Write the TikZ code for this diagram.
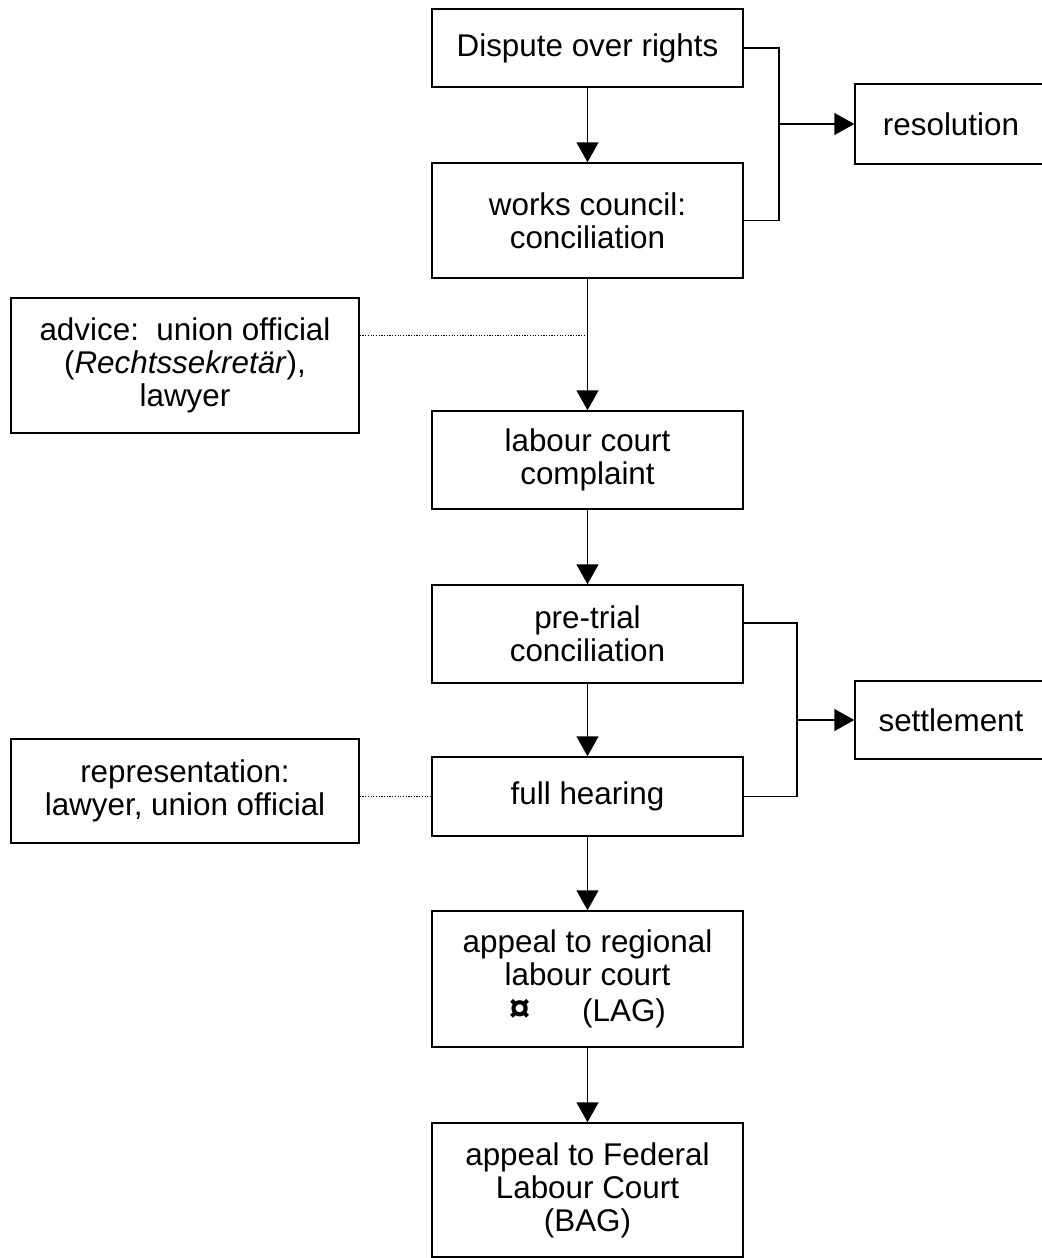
\documentclass[tikz,border=0pt]{standalone}
\usepackage{fontspec}
\setmainfont{Liberation Sans}
\usetikzlibrary{arrows.meta,calc}
\begin{document}
\begin{tikzpicture}[x=0.5pt,y=-0.5pt, every node/.style={draw,line width=0.75pt,align=center,inner sep=0pt,font=\fontsize{15.7}{16.5}\selectfont},
    stage/.style={minimum width=155.5pt},
    side/.style={minimum width=174pt},
    outcome/.style={minimum width=96pt},
    arr/.style={line width=0.75pt,-{Triangle[width=11pt,length=10pt]}},
    link/.style={line width=0.75pt},
    dotline/.style={line width=0.5pt,dash pattern=on 0.6pt off 0.75pt}]
            \useasboundingbox (0,0) rectangle (1042,1258);
            \node[stage,minimum height=39pt] (dispute) at (587.5,48) {Dispute over rights};
            \node[stage,minimum height=57.5pt] (works) at (587.5,220.5) {works council:\\conciliation};
            \node[side,minimum height=67.5pt] (advice) at (185,365.5) {advice:\ \ union official\\(\textit{Rechtssekretär}),\\lawyer};
            \node[stage,minimum height=49pt] (complaint) at (587.5,460) {labour court\\complaint};
            \node[stage,minimum height=49pt] (pretrial) at (587.5,634) {pre-trial\\conciliation};
            \node[stage,minimum height=39.5pt] (hearing) at (587.5,796.5) {full hearing};
            \node[side,minimum height=52pt] (repr) at (185,791) {representation:\\lawyer, union official};
            \node[stage,minimum height=68pt] (lag) at (587.5,979) {appeal to regional\\labour court\\[1.5pt]{\fontsize{19}{16.5}\selectfont\bfseries ¤}\hspace{26pt}(LAG)};
            \node[stage,minimum height=67pt] (bag) at (587.5,1190) {appeal to Federal\\Labour Court\\(BAG)};
            \node[outcome,minimum height=40pt] (resolution) at (951,124) {resolution};
            \node[outcome,minimum height=39pt] (settlement) at (951,720) {settlement};
            \coordinate (rj) at (779,124);
            \coordinate (sj) at (797,720);
            \coordinate (advj) at (587.5,335);
            \draw[arr] (dispute) -- (works);
            \draw[arr] (works) -- (complaint);
            \draw[arr] (complaint) -- (pretrial);
            \draw[arr] (pretrial) -- (hearing);
            \draw[arr] (hearing) -- (lag);
            \draw[arr] (lag) -- (bag);
            \draw[link] (dispute.east) -| (rj) |- (works.east);
            \draw[arr] (rj) -- (resolution);
            \draw[link] ($(pretrial.east)+(0,-11)$) -| (sj) |- (hearing.east);
            \draw[arr] (sj) -- (settlement);
            \draw[dotline] (advice.east |- advj) -- (advj);
            \draw[dotline] (repr.east |- hearing.west) -- (hearing.west);
        \end{tikzpicture}
\end{document}
